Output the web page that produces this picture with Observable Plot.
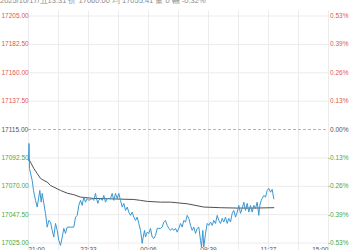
<!DOCTYPE html>
<html><head><meta charset="utf-8">
<script src="https://cdn.jsdelivr.net/npm/d3@7"></script>
<script src="https://cdn.jsdelivr.net/npm/@observablehq/plot@0.6"></script>
<style>
html,body{margin:0;padding:0;background:#fff}
body{width:350px;height:250px;overflow:hidden;position:relative;font-family:"Liberation Sans",Arial,sans-serif}
#hdr{position:absolute;left:0;top:-4px;font-size:7.5px;line-height:10px;color:#8a8a8a;white-space:nowrap}
#chart{position:absolute;left:0;top:0}
</style></head><body>
<div id="chart"></div><div id="hdr"></div>
<script>
const header = "2025/10/17/五13:31 价 17060.00 均 17055.41 量 0 幅 -0.32%";
const baseClose = 17115;
const priceTicks = [17025, 17047.5, 17070, 17092.5, 17115, 17137.5, 17160, 17182.5, 17205];
const pctLabels = ["-0.53%", "-0.39%", "-0.26%", "-0.13%", "0.00%", "0.13%", "0.26%", "0.39%", "0.53%"];
const gridSlots = [0, 30, 60, 90, 120, 150, 180, 210, 240, 270, 300];
const timeSlots = [0, 60, 120, 180, 240, 300];
const timeLabels = ["21:00", "22:33", "00:06", "09:39", "11:27", "15:00"];

const priceSlot = [0,0.5,1,3.7,5,7,8.7,10.3,11.3,12.7,13.7,15.3,17,18.7,20.3,22,23.7,25.3,27,28.7,30.3,32,33.7,35.3,37,38.7,42,45.3,47,48.7,50.3,52,53.7,55.3,57,58.7,60.3,62,63.7,65.3,67,68,69.3,70.3,72,73.7,75.3,77,78.7,80.3,82,83.7,85.3,87,88.7,90.3,92,93.7,95.3,97,98.7,100.3,102,103.7,105.3,107,108.7,110.3,112,113.7,114.7,116,117,118.7,120.3,122,123.7,125.3,127,128.7,132,133.7,135.3,137,138.7,140.3,142,143.7,145.3,147,148.7,150.3,152,153.7,155.3,157,158.7,160.3,162,163.7,165.3,167,168.7,170.3,172,173,174.3,175.3,177,178.7,180.3,182,183.7,185.3,187,188.7,190.3,192,193.7,195.3,197,198.7,200.3,202,203.7,205.3,207,208.7,210.3,212,213.7,215.3,217,218.7,220.3,222,223.7,225.3,227,228.7,230.3,231.3,232.7,233.7,235.3,237,238.7,240.3,242,243.7,245.3];
const priceValue = [17090.4,17103.9,17084,17074.6,17066.7,17058.8,17053.5,17061.4,17066.7,17057.4,17064.3,17056.4,17048.5,17037.6,17042.9,17041.6,17035,17029.7,17040.5,17035,17027.1,17023.1,17029.7,17036.6,17032.6,17037.6,17037.6,17037.6,17045.5,17046.9,17054.8,17058.8,17054.8,17061.4,17057.4,17060.3,17058.8,17059.5,17060.3,17058.8,17064.3,17060.3,17056.4,17058.8,17060.3,17058.8,17062.7,17057.4,17060.3,17060.3,17060.3,17064.3,17058.8,17064.3,17060.3,17064.3,17058.8,17053.5,17056.4,17050.8,17053.5,17049.5,17046.9,17049.5,17045.5,17042.9,17045.5,17040.5,17035,17024.7,17029.7,17035,17029.7,17033.6,17032.6,17036.6,17029.7,17028.6,17031,17036.6,17036.6,17037.6,17041.6,17042.9,17039,17036.6,17035,17036.6,17035,17036.6,17033.6,17036.6,17040.5,17037.6,17042.9,17041.6,17046.9,17044.5,17039,17035,17037.6,17032.6,17036.6,17037.6,17027.1,17021.8,17035,17021.8,17032.6,17040.5,17039,17041.6,17039,17042.9,17040.5,17046.9,17042.9,17040.5,17044.5,17041.6,17045.5,17040.5,17044.5,17041.6,17048.5,17050.8,17045.5,17049.5,17054.8,17048.5,17052.4,17057.4,17050.8,17056.4,17049.5,17054.8,17049.5,17054.8,17052.4,17057.4,17046.9,17054.8,17058.8,17060.3,17062.7,17061.4,17066.7,17068.3,17065.3,17067.5,17060];

const avgSlot = [0,2,5.3,8.7,12,15.3,18.7,22,25.3,28.7,32,38.7,45.3,52,58.7,65.3,78.7,92,105.3,112,118.7,132,142,158.7,175.3,192,208.7,225.3,245.3];
const avgValue = [17092,17089.1,17084.1,17080.1,17076.2,17074.6,17073.3,17070.6,17069.3,17068,17066.7,17064.5,17063.3,17061.4,17060.9,17060.3,17060.1,17059.8,17059.5,17058.8,17058,17057.4,17057.4,17056.1,17053.5,17053,17052.7,17052.7,17053];

document.getElementById("hdr").textContent = header;

const priceData = priceSlot.map((s, i) => ({slot: s, value: priceValue[i]}));
const avgData = avgSlot.map((s, i) => ({slot: s, value: avgValue[i]}));
const tickColor = v => v > baseClose ? "#e0574b" : v < baseClose ? "#46a846" : "#555555";
const ticks = priceTicks.map((v, i) => ({value: v, pct: pctLabels[i], color: tickColor(v)}));
const times = timeSlots.map((s, i) => ({slot: s, label: timeLabels[i]}));
const gridTicks = priceTicks.filter(v => v !== baseClose);

const chart = Plot.plot({
  width: 350, height: 250,
  marginLeft: 28, marginRight: 22, marginTop: 15.5, marginBottom: 7.5,
  x: {domain: [0, 300], axis: null},
  y: {domain: [17025, 17205], axis: null},
  style: {fontFamily: "Liberation Sans, Arial, sans-serif", fontSize: "6.5px", background: "transparent", overflow: "hidden"},
  marks: [
    Plot.ruleX(gridSlots, {x: d => d, y1: 17016, y2: 17209, stroke: "#ececec", strokeWidth: 1}),
    Plot.ruleY(gridTicks, {y: d => d, stroke: "#ececec", strokeWidth: 1}),
    Plot.ruleY([baseClose], {y: d => d, stroke: "#b5b5b5", strokeWidth: 1, strokeDasharray: "3,2"}),
    Plot.line(avgData, {x: "slot", y: "value", stroke: "#505050", strokeWidth: 1}),
    Plot.line(priceData, {x: "slot", y: "value", stroke: "#3a97d3", strokeWidth: 1}),
    Plot.text(ticks, {y: "value", frameAnchor: "left", textAnchor: "start", dx: -27, text: d => d.value.toFixed(2), fill: "color"}),
    Plot.text(ticks, {y: "value", frameAnchor: "right", textAnchor: "end", dx: 20, text: "pct", fill: "color"}),
    Plot.text(times.slice(0, 1), {x: "slot", frameAnchor: "bottom", lineAnchor: "top", dy: 4.5, textAnchor: "start", text: "label", fill: "#555"}),
    Plot.text(times.slice(1, -1), {x: "slot", frameAnchor: "bottom", lineAnchor: "top", dy: 4.5, textAnchor: "middle", text: "label", fill: "#555"}),
    Plot.text(times.slice(-1), {x: "slot", frameAnchor: "bottom", lineAnchor: "top", dy: 4.5, textAnchor: "end", text: "label", fill: "#555"})
  ]
});
document.getElementById("chart").appendChild(chart);
</script>
</body></html>
